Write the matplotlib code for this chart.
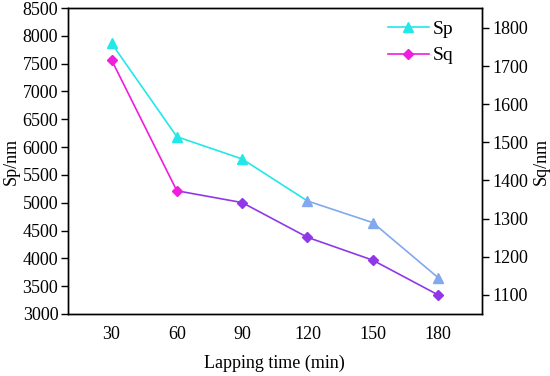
import matplotlib
matplotlib.use("Agg")
import matplotlib.pyplot as plt
from matplotlib.lines import Line2D

plt.rcParams['font.family'] = ['Liberation Serif', 'DejaVu Serif']

time_min = [30, 60, 90, 120, 150, 180]
sp_nm = [7866, 6187, 5786, 5031, 4642, 3653]
sq_nm = [1716, 1373, 1342, 1251, 1191, 1100]
left_ticks = [3000, 3500, 4000, 4500, 5000, 5500, 6000, 6500, 7000, 7500, 8000, 8500]
right_ticks = [1100, 1200, 1300, 1400, 1500, 1600, 1700, 1800]

cyan = '#22E8E8'
lightblue = '#82A8F0'
magenta = '#F01CE0'
purple = '#9038E8'

fig = plt.figure(figsize=(5.5, 3.76), dpi=100)
ax = fig.add_axes([0.1236, 0.1649, 0.7522, 0.8138])
ax2 = ax.twinx()

# Sp: first part cyan, later part light blue
ax.plot(time_min[:4], sp_nm[:4], color=cyan, lw=1.2, zorder=2)
ax.plot(time_min[3:], sp_nm[3:], color=lightblue, lw=1.2, zorder=2)
ax.plot(time_min[:3], sp_nm[:3], ls='none', marker='^', ms=6.5, color=cyan, zorder=3)
ax.plot(time_min[3:], sp_nm[3:], ls='none', marker='^', ms=6.5, color=lightblue, zorder=3)

# Sq: first segment magenta, rest purple
ax2.plot(time_min[:2], sq_nm[:2], color=magenta, lw=1.2, zorder=2)
ax2.plot(time_min[1:], sq_nm[1:], color=purple, lw=1.2, zorder=2)
ax2.plot(time_min[:2], sq_nm[:2], ls='none', marker='D', ms=5.5, color=magenta, zorder=3)
ax2.plot(time_min[2:], sq_nm[2:], ls='none', marker='D', ms=5.5, color=purple, zorder=3)

ax.set_xlim(10, 200)
ax.set_ylim(3000, 8500)
ax2.set_ylim(1050, 1852)
ax.set_xticks(time_min)
ax.set_yticks(left_ticks)
ax2.set_yticks(right_ticks)

fs = 13
ax.tick_params(axis='x', length=0, labelsize=fs, pad=9)
ax.tick_params(axis='y', direction='out', length=5, width=1, labelsize=fs, pad=2)
ax2.tick_params(axis='y', direction='out', length=5, width=1, labelsize=fs, pad=3)
for a in (ax, ax2):
    for s in a.spines.values():
        s.set_linewidth(1.0)

ax.set_xlabel('Lapping time (min)', fontsize=fs, labelpad=8)
ax.set_ylabel('Sp/nm', fontsize=fs, labelpad=2)
ax2.set_ylabel('Sq/nm', fontsize=fs, labelpad=3)

handles = [Line2D([], [], color=cyan, marker='^', ms=6.5, lw=1.2),
           Line2D([], [], color=magenta, marker='D', ms=5.5, lw=1.2)]
ax.legend(handles, ['Sp', 'Sq'], loc='upper right', frameon=False, fontsize=14,
          handlelength=2.1, handletextpad=0.2, labelspacing=0.45,
          bbox_to_anchor=(0.969, 1.01), borderaxespad=0.4)

fig.savefig('out.png', dpi=100)
